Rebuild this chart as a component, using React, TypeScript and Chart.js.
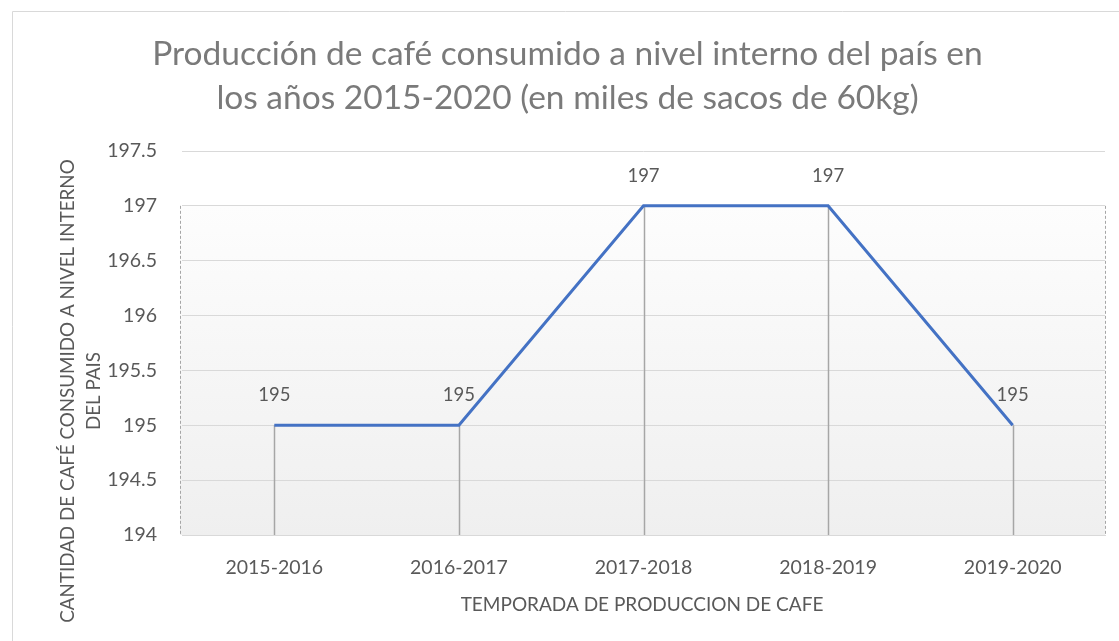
import React, { useEffect, useRef } from "react";
import { Chart, registerables } from "chart.js";

Chart.register(...registerables);

const categories = ["2015-2016", "2016-2017", "2017-2018", "2018-2019", "2019-2020"];
const values = [195, 195, 197, 197, 195];
const yMin = 194;
const yMax = 197.5;
const yStep = 0.5;
const shadeTop = 197;
const titleLines = [
  "Producción de café consumido a nivel interno del país en",
  "los años 2015-2020 (en miles de sacos de 60kg)",
];
const yTitleLines = ["CANTIDAD DE CAFÉ CONSUMIDO A NIVEL INTERNO", "DEL PAIS"];
const xTitle = "TEMPORADA DE PRODUCCION DE CAFE";

const FONT = "Lato, 'Open Sans', sans-serif";
const TEXT = "#595959";

const decorPlugin = {
  id: "decor",
  beforeDraw(chart: any) {
    const { ctx, chartArea, scales } = chart;
    const y = scales.y;
    ctx.save();
    ctx.strokeStyle = "#d9d9d9";
    ctx.lineWidth = 1;
    ctx.beginPath();
    ctx.moveTo(12.5, 641);
    ctx.lineTo(12.5, 11.5);
    ctx.lineTo(1119, 11.5);
    ctx.stroke();
    const top = y.getPixelForValue(shadeTop);
    const bottom = chartArea.bottom;
    const g = ctx.createLinearGradient(0, top, 0, bottom);
    g.addColorStop(0, "#fdfdfd");
    g.addColorStop(1, "#efefef");
    ctx.fillStyle = g;
    ctx.fillRect(chartArea.left - 2, top, chartArea.right - chartArea.left + 2, bottom - top);
    ctx.strokeStyle = "#a6a6a6";
    ctx.setLineDash([3, 2]);
    ctx.beginPath();
    ctx.moveTo(chartArea.left - 1.5, top);
    ctx.lineTo(chartArea.left - 1.5, bottom);
    ctx.moveTo(chartArea.right + 0.5, top);
    ctx.lineTo(chartArea.right + 0.5, bottom);
    ctx.stroke();
    ctx.restore();
  },
  beforeDatasetsDraw(chart: any) {
    const { ctx, chartArea } = chart;
    const meta = chart.getDatasetMeta(0);
    ctx.save();
    ctx.strokeStyle = "#a6a6a6";
    ctx.lineWidth = 1.5;
    meta.data.forEach((pt: any) => {
      ctx.beginPath();
      ctx.moveTo(Math.round(pt.x) + 0.5, pt.y);
      ctx.lineTo(Math.round(pt.x) + 0.5, chartArea.bottom);
      ctx.stroke();
    });
    ctx.restore();
  },
  afterDatasetsDraw(chart: any) {
    const { ctx } = chart;
    const meta = chart.getDatasetMeta(0);
    const data = chart.data.datasets[0].data;
    ctx.save();
    ctx.fillStyle = TEXT;
    ctx.font = `18.5px ${FONT}`;
    ctx.textAlign = "center";
    ctx.textBaseline = "middle";
    meta.data.forEach((pt: any, i: number) => {
      ctx.fillText(String(data[i]), pt.x, pt.y - 30);
    });
    ctx.restore();
  },
  afterDraw(chart: any) {
    const { ctx } = chart;
    ctx.save();
    ctx.fillStyle = TEXT;
    ctx.textAlign = "center";
    ctx.textBaseline = "middle";
    ctx.font = `19px ${FONT}`;
    ctx.fillText(xTitle, 642, 605);
    ctx.font = `18.8px ${FONT}`;
    ctx.translate(68, 391);
    ctx.rotate(-Math.PI / 2);
    yTitleLines.forEach((line, i) => {
      ctx.fillText(line, 0, i * 26);
    });
    ctx.restore();
  },
};

export default function App() {
  const ref = useRef<HTMLCanvasElement | null>(null);
  useEffect(() => {
    if (!ref.current) return;
    const chart = new Chart(ref.current, {
      type: "line",
      data: {
        labels: categories,
        datasets: [
          {
            data: values,
            borderColor: "#4472C4",
            borderWidth: 3,
            pointRadius: 0,
            tension: 0,
            fill: false,
          },
        ],
      },
      options: {
        responsive: false,
        animation: false,
        layout: { padding: { left: 30, right: 14, top: 12, bottom: 20 } },
        plugins: {
          legend: { display: false },
          tooltip: { enabled: false },
          title: {
            display: true,
            text: titleLines,
            color: "#7a7a7a",
            font: { family: FONT, size: 33.5, weight: "normal", lineHeight: 44 / 33.5 },
            padding: { top: 20, bottom: 31 },
          },
        },
        scales: {
          x: {
            offset: true,
            grid: { display: false, drawTicks: false },
            border: { display: true, color: "#d9d9d9" },
            ticks: { color: TEXT, font: { family: FONT, size: 19.5 }, padding: 21 },
            afterFit(scale: any) {
              scale.height = 86;
            },
          },
          y: {
            min: yMin,
            max: yMax,
            ticks: {
              stepSize: yStep,
              color: TEXT,
              font: { family: FONT, size: 19.5 },
              padding: 25,
              callback: (v: any) => String(v),
            },
            grid: { color: "#d9d9d9", drawTicks: false },
            border: { display: false },
            afterFit(scale: any) {
              scale.width = 152;
            },
          },
        },
      },
      plugins: [decorPlugin],
    });
    return () => chart.destroy();
  }, []);
  return (
    <div style={{ position: "fixed", left: 0, top: 0, width: 1119, height: 641, background: "#fff" }}>
      <canvas ref={ref} width={1119} height={641} />
    </div>
  );
}
